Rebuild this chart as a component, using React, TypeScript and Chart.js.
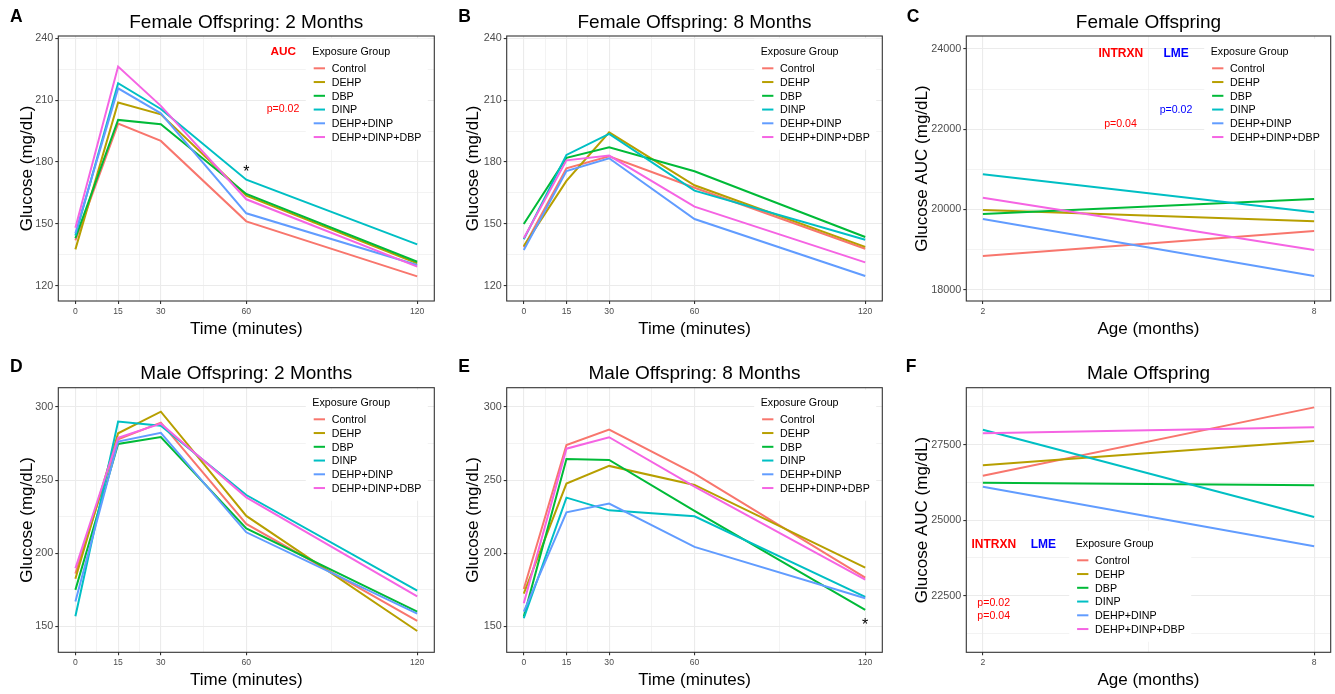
import React, { useEffect, useRef } from "react";
import { Chart, registerables } from "chart.js";

Chart.register(...registerables);

const FONT = '"Liberation Sans", Arial, Helvetica, sans-serif';

// ---------- data ----------
const groups = ["Control", "DEHP", "DBP", "DINP", "DEHP+DINP", "DEHP+DINP+DBP"];
const groupColors = ["#F8766D", "#B79F00", "#00BA38", "#00BFC4", "#619CFF", "#F564E3"];

const timePoints = [0, 15, 30, 60, 120];
const agePoints = [2, 8];

const timeMajorTicks = [0, 15, 30, 60, 120];
const timeMinorTicks = [7.5, 22.5, 45, 90];
const ageMajorTicks = [2, 8];
const ageMinorTicks = [5];
const femaleGlucoseTicks = [120, 150, 180, 210, 240];
const femaleGlucoseMinor = [135, 165, 195, 225];
const maleGlucoseTicks = [150, 200, 250, 300];
const maleGlucoseMinor = [175, 225, 275];
const femaleAucTicks = [18000, 20000, 22000, 24000];
const femaleAucMinor = [19000, 21000, 23000];
const maleAucTicks = [22500, 25000, 27500];
const maleAucMinor = [21250, 23750, 26250, 28750];

// rows follow the order of `groups`
const female2Months = [
  [142.0, 198.6, 190.2, 151.2, 124.5],
  [137.6, 208.8, 203.1, 163.7, 130.8],
  [143.0, 200.4, 198.3, 164.5, 131.6],
  [144.3, 218.2, 205.7, 171.4, 140.0],
  [145.4, 215.7, 203.6, 155.1, 130.0],
  [148.1, 226.3, 207.2, 161.9, 129.2],
];
const female8Months = [
  [138.6, 176.9, 182.7, 167.5, 137.9],
  [139.2, 170.8, 194.4, 168.7, 138.8],
  [149.9, 182.0, 187.1, 175.5, 143.6],
  [142.5, 183.4, 193.6, 166.1, 142.3],
  [137.3, 175.6, 181.8, 152.3, 124.7],
  [143.0, 180.8, 183.1, 158.3, 131.3],
];
const femaleAuc = [
  [18839, 19463],
  [19986, 19704],
  [19886, 20260],
  [20875, 19928],
  [19762, 18341],
  [20293, 18989],
];
const male2Months = [
  [186.0, 277.9, 289.3, 220.0, 153.7],
  [182.5, 282.0, 296.8, 225.5, 146.8],
  [174.9, 274.7, 279.5, 217.0, 160.0],
  [156.9, 290.0, 287.2, 239.8, 174.4],
  [166.9, 276.3, 282.4, 214.3, 158.7],
  [189.7, 279.0, 288.6, 238.2, 170.5],
];
const male8Months = [
  [175.5, 274.0, 284.5, 254.4, 183.3],
  [172.3, 247.6, 259.7, 246.7, 190.1],
  [156.6, 264.4, 263.8, 229.0, 161.2],
  [155.5, 238.0, 229.3, 225.2, 170.1],
  [160.0, 228.0, 233.9, 204.3, 169.2],
  [165.7, 271.5, 279.3, 245.5, 181.9],
];
const maleAuc = [
  [26474, 28736],
  [26816, 27621],
  [26242, 26153],
  [27997, 25105],
  [26109, 24134],
  [27875, 28074],
];

// significance stars, in data coordinates
const starsFemale2 = [{ x: 60, y: 176.9 }];
const starsMale8 = [{ x: 120, y: 153.7 }];

// ---------- layout ----------
type Note = { text: string; x: number; y: number; size: number; bold?: boolean; color: string };
type Pt = { x: number; y: number };

interface PanelSpec {
  key: string;
  letter: string;
  letterX: number;
  letterY: number;
  title: string;
  titleY: number;
  xTitle: string;
  xTitleY: number;
  yTitle: string;
  yTitleX: number;
  left: number;
  top: number;
  width: number;
  height: number;
  area: { left: number; top: number; right: number; bottom: number };
  xs: number[];
  series: number[][];
  xMin: number;
  xMax: number;
  xMajor: number[];
  xMinor: number[];
  yMin: number;
  yMax: number;
  yMajor: number[];
  yMinor: number[];
  legendX: number;
  legendY: number;
  legendW: number;
  notes: Note[];
  stars: Pt[];
}

const RED = "#FF0000";
const BLUE = "#0000FF";

const panels: PanelSpec[] = [
  {
    key: "A", letter: "A", letterX: 10, letterY: 15.8,
    title: "Female Offspring: 2 Months", titleY: 21.2,
    xTitle: "Time (minutes)", xTitleY: 328.2,
    yTitle: "Glucose (mg/dL)", yTitleX: 31.5,
    left: 0, top: 0, width: 445, height: 345,
    area: { left: 58.3, top: 36, right: 434.3, bottom: 301 },
    xs: timePoints, series: female2Months,
    xMin: -6, xMax: 126, xMajor: timeMajorTicks, xMinor: timeMinorTicks,
    yMin: 112.56, yMax: 241.1, yMajor: femaleGlucoseTicks, yMinor: femaleGlucoseMinor,
    legendX: 312.3, legendY: 51.3, legendW: 122,
    notes: [
      { text: "AUC", x: 283.3, y: 50.7, size: 11.8, bold: true, color: RED },
      { text: "p=0.02", x: 283, y: 108.7, size: 10.6, color: RED },
    ],
    stars: starsFemale2,
  },
  {
    key: "B", letter: "B", letterX: 13.3, letterY: 15.8,
    title: "Female Offspring: 8 Months", titleY: 21.2,
    xTitle: "Time (minutes)", xTitleY: 328.2,
    yTitle: "Glucose (mg/dL)", yTitleX: 33.3,
    left: 445, top: 0, width: 445, height: 345,
    area: { left: 61.7, top: 36, right: 437.3, bottom: 301 },
    xs: timePoints, series: female8Months,
    xMin: -6, xMax: 126, xMajor: timeMajorTicks, xMinor: timeMinorTicks,
    yMin: 112.56, yMax: 241.1, yMajor: femaleGlucoseTicks, yMinor: femaleGlucoseMinor,
    legendX: 315.7, legendY: 51.3, legendW: 122,
    notes: [],
    stars: [],
  },
  {
    key: "C", letter: "C", letterX: 16.7, letterY: 15.8,
    title: "Female Offspring", titleY: 21.2,
    xTitle: "Age (months)", xTitleY: 328.2,
    yTitle: "Glucose AUC (mg/dL)", yTitleX: 37.3,
    left: 890, top: 0, width: 445, height: 345,
    area: { left: 76.3, top: 36, right: 440.7, bottom: 301 },
    xs: agePoints, series: femaleAuc,
    xMin: 1.7, xMax: 8.3, xMajor: ageMajorTicks, xMinor: ageMinorTicks,
    yMin: 17717, yMax: 24324, yMajor: femaleAucTicks, yMinor: femaleAucMinor,
    legendX: 320.7, legendY: 51.3, legendW: 130,
    notes: [
      { text: "INTRXN", x: 230.8, y: 52.7, size: 12, bold: true, color: RED },
      { text: "LME", x: 286.2, y: 52.7, size: 12, bold: true, color: BLUE },
      { text: "p=0.04", x: 230.5, y: 123.3, size: 10.6, color: RED },
      { text: "p=0.02", x: 286, y: 109.3, size: 10.6, color: BLUE },
    ],
    stars: [],
  },
  {
    key: "D", letter: "D", letterX: 10, letterY: 20.8,
    title: "Male Offspring: 2 Months", titleY: 26.7,
    xTitle: "Time (minutes)", xTitleY: 333.9,
    yTitle: "Glucose (mg/dL)", yTitleX: 31.5,
    left: 0, top: 345, width: 445, height: 349,
    area: { left: 58.3, top: 42.7, right: 434.3, bottom: 307.3 },
    xs: timePoints, series: male2Months,
    xMin: -6, xMax: 126, xMajor: timeMajorTicks, xMinor: timeMinorTicks,
    yMin: 132.2, yMax: 313.2, yMajor: maleGlucoseTicks, yMinor: maleGlucoseMinor,
    legendX: 312.3, legendY: 57.3, legendW: 122,
    notes: [],
    stars: [],
  },
  {
    key: "E", letter: "E", letterX: 13.3, letterY: 20.8,
    title: "Male Offspring: 8 Months", titleY: 26.7,
    xTitle: "Time (minutes)", xTitleY: 333.9,
    yTitle: "Glucose (mg/dL)", yTitleX: 33.3,
    left: 445, top: 345, width: 445, height: 349,
    area: { left: 61.7, top: 42.7, right: 437.3, bottom: 307.3 },
    xs: timePoints, series: male8Months,
    xMin: -6, xMax: 126, xMajor: timeMajorTicks, xMinor: timeMinorTicks,
    yMin: 132.2, yMax: 313.2, yMajor: maleGlucoseTicks, yMinor: maleGlucoseMinor,
    legendX: 315.7, legendY: 57.3, legendW: 122,
    notes: [],
    stars: starsMale8,
  },
  {
    key: "F", letter: "F", letterX: 15.7, letterY: 20.8,
    title: "Male Offspring", titleY: 26.7,
    xTitle: "Age (months)", xTitleY: 333.9,
    yTitle: "Glucose AUC (mg/dL)", yTitleX: 37.3,
    left: 890, top: 345, width: 445, height: 349,
    area: { left: 76.3, top: 42.7, right: 440.7, bottom: 307.3 },
    xs: agePoints, series: maleAuc,
    xMin: 1.7, xMax: 8.3, xMajor: ageMajorTicks, xMinor: ageMinorTicks,
    yMin: 20624, yMax: 29387, yMajor: maleAucTicks, yMinor: maleAucMinor,
    legendX: 185.7, legendY: 198.3, legendW: 122,
    notes: [
      { text: "INTRXN", x: 103.8, y: 198.7, size: 12, bold: true, color: RED },
      { text: "LME", x: 153.3, y: 198.7, size: 12, bold: true, color: BLUE },
      { text: "p=0.02", x: 103.7, y: 257, size: 10.6, color: RED },
      { text: "p=0.04", x: 103.7, y: 270.3, size: 10.6, color: RED },
    ],
    stars: [],
  },
];

// draw text so that the cap-height centre lands on y
function capText(
  ctx: CanvasRenderingContext2D,
  text: string,
  x: number,
  y: number,
  size: number,
  color: string,
  align: CanvasTextAlign = "center",
  bold = false
) {
  ctx.font = `${bold ? "bold " : ""}${size}px ${FONT}`;
  ctx.fillStyle = color;
  ctx.textAlign = align;
  ctx.textBaseline = "alphabetic";
  ctx.fillText(text, x, y + 0.358 * size);
}

function makeOverlay(spec: PanelSpec) {
  return {
    id: "overlay" + spec.key,
    afterDraw(chart: any) {
      const ctx: CanvasRenderingContext2D = chart.ctx;
      const a = chart.chartArea;
      const cx = (a.left + a.right) / 2;
      const cy = (a.top + a.bottom) / 2;
      ctx.save();

      // legend background (inside panel)
      ctx.save();
      ctx.beginPath();
      ctx.rect(a.left, a.top, a.right - a.left, a.bottom - a.top);
      ctx.clip();
      ctx.fillStyle = "#FFFFFF";
      ctx.fillRect(spec.legendX - 6.5, spec.legendY - 12.6, spec.legendW, 111);
      ctx.restore();

      // legend
      capText(ctx, "Exposure Group", spec.legendX, spec.legendY, 10.7, "#000000", "left");
      groups.forEach((g, i) => {
        const y = spec.legendY + 17 + i * 13.75;
        ctx.strokeStyle = groupColors[i];
        ctx.lineWidth = 2;
        ctx.beginPath();
        ctx.moveTo(spec.legendX + 1.4, y);
        ctx.lineTo(spec.legendX + 12.7, y);
        ctx.stroke();
        capText(ctx, g, spec.legendX + 19.4, y, 10.7, "#000000", "left");
      });

      // annotations
      spec.notes.forEach((n) => capText(ctx, n.text, n.x, n.y, n.size, n.color, "center", !!n.bold));

      // stars
      const xs = chart.scales.x;
      const ys = chart.scales.y;
      spec.stars.forEach((s) => {
        const px = xs.getPixelForValue(s.x);
        const py = ys.getPixelForValue(s.y);
        ctx.font = `16px ${FONT}`;
        ctx.fillStyle = "#000000";
        ctx.textAlign = "center";
        ctx.textBaseline = "alphabetic";
        ctx.fillText("*", px, py + 0.57 * 16);
      });

      // panel border
      ctx.strokeStyle = "#333333";
      ctx.lineWidth = 1.1;
      ctx.strokeRect(a.left, a.top, a.right - a.left, a.bottom - a.top);

      // titles
      capText(ctx, spec.letter, spec.letterX, spec.letterY, 17.5, "#000000", "left", true);
      capText(ctx, spec.title, cx, spec.titleY, 19, "#000000");
      capText(ctx, spec.xTitle, cx, spec.xTitleY, 17, "#000000");

      ctx.save();
      ctx.translate(spec.yTitleX, cy);
      ctx.rotate(-Math.PI / 2);
      ctx.font = `17px ${FONT}`;
      ctx.fillStyle = "#000000";
      ctx.textAlign = "center";
      ctx.textBaseline = "alphabetic";
      ctx.fillText(spec.yTitle, 0, 0);
      ctx.restore();

      ctx.restore();
    },
  };
}

function axisOptions(
  min: number,
  max: number,
  major: number[],
  minor: number[],
  fontSize: number,
  fit: (s: any) => void
) {
  const all = [...major, ...minor].sort((p, q) => p - q);
  return {
    type: "linear" as const,
    min,
    max,
    afterBuildTicks: (axis: any) => {
      axis.ticks = all.map((v) => ({ value: v }));
    },
    afterFit: fit,
    border: { display: false },
    grid: {
      color: "#EBEBEB",
      lineWidth: (c: any) => (c.tick && major.includes(c.tick.value) ? 1.1 : 0.6),
      drawTicks: true,
      tickLength: 3,
      tickWidth: 1.1,
      tickColor: (c: any) => (c.tick && major.includes(c.tick.value) ? "#333333" : "rgba(0,0,0,0)"),
    },
    ticks: {
      autoSkip: false,
      maxRotation: 0,
      minRotation: 0,
      padding: 2,
      color: "#4D4D4D",
      font: { family: FONT, size: fontSize },
      callback: (v: any) => (major.includes(Number(v)) ? String(v) : ""),
    },
  };
}

function Panel({ spec }: { spec: PanelSpec }) {
  const ref = useRef<HTMLCanvasElement | null>(null);
  useEffect(() => {
    const canvas = ref.current;
    if (!canvas) return;
    const yWidth = spec.area.left;
    const xHeight = spec.height - spec.area.bottom;
    const chart = new Chart(canvas, {
      type: "line",
      data: {
        datasets: groups.map((g, i) => ({
          label: g,
          data: spec.series[i].map((v, j) => ({ x: spec.xs[j], y: v })),
          borderColor: groupColors[i],
          backgroundColor: groupColors[i],
          borderWidth: 2,
          pointRadius: 0,
          pointHoverRadius: 0,
          tension: 0,
          fill: false,
          order: groups.length - i,
        })),
      },
      options: {
        responsive: false,
        animation: false,
        devicePixelRatio: 1,
        events: [],
        layout: {
          padding: { left: 0, top: spec.area.top, right: spec.width - spec.area.right, bottom: 0 },
        },
        plugins: {
          legend: { display: false },
          title: { display: false },
          tooltip: { enabled: false },
        },
        scales: {
          x: axisOptions(spec.xMin, spec.xMax, spec.xMajor, spec.xMinor, 8.6, (s: any) => {
            s.height = xHeight;
          }),
          y: axisOptions(spec.yMin, spec.yMax, spec.yMajor, spec.yMinor, 10.8, (s: any) => {
            s.width = yWidth;
          }),
        },
      } as any,
      plugins: [makeOverlay(spec)],
    });
    return () => chart.destroy();
  }, [spec]);

  return (
    <canvas
      ref={ref}
      width={spec.width}
      height={spec.height}
      style={{
        position: "absolute",
        left: spec.left,
        top: spec.top,
        width: spec.width,
        height: spec.height,
      }}
    />
  );
}

export default function App() {
  useEffect(() => {
    document.body.style.margin = "0";
    document.body.style.background = "#FFFFFF";
  }, []);
  return (
    <div style={{ position: "relative", width: 1335, height: 694, background: "#FFFFFF", overflow: "hidden" }}>
      {panels.map((p) => (
        <Panel key={p.key} spec={p} />
      ))}
    </div>
  );
}
